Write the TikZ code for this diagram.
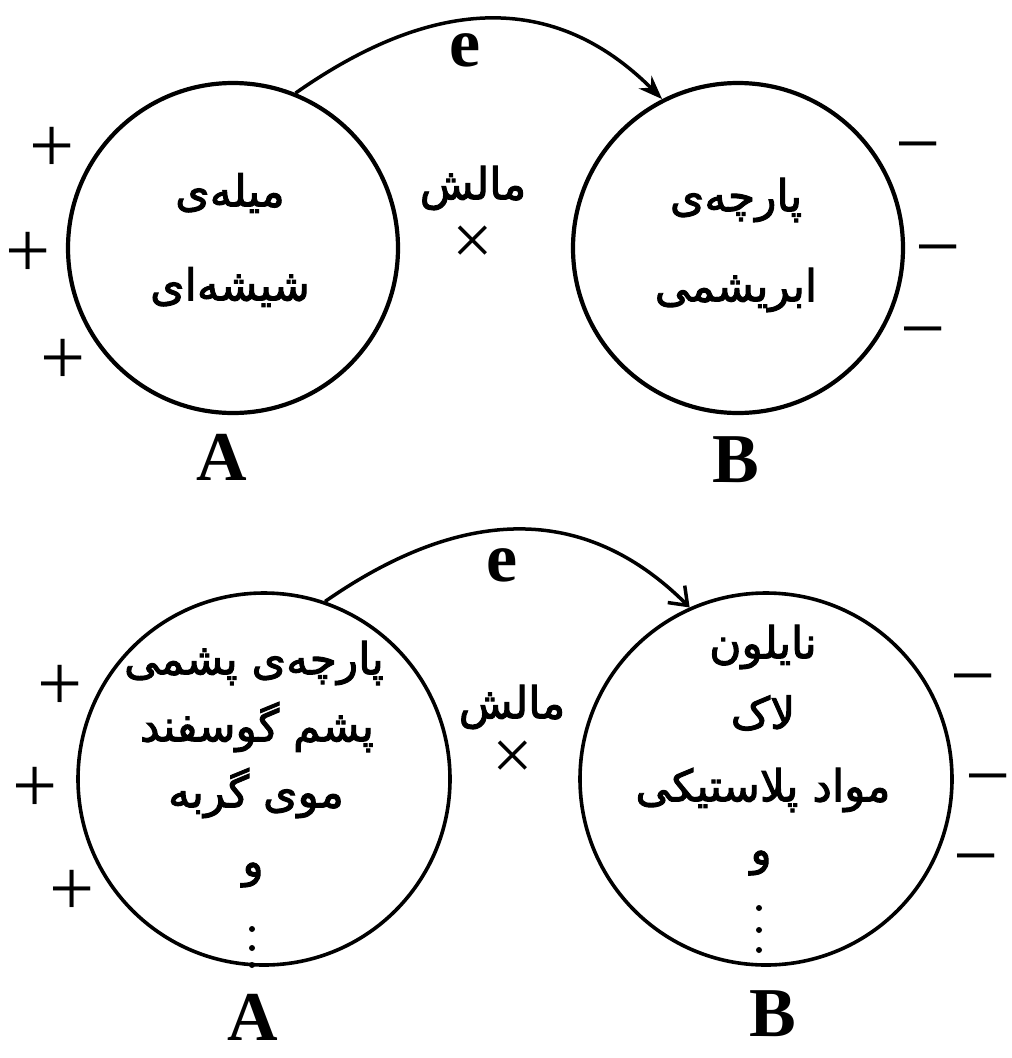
\documentclass[tikz,border=0pt]{standalone}
\usepackage{fontspec}
\setmainfont{Liberation Serif}
\newfontfamily\fa[Script=Arabic,FakeBold=2.2]{DejaVu Sans}
\TeXXeTstate=1
\usetikzlibrary{arrows.meta}
\begin{document}
\begin{tikzpicture}[x=1pt,y=-1pt,
  ringS/.style={circle,draw,line width=4.2pt,inner sep=0pt,minimum size=330pt},
  ringL/.style={circle,draw,line width=3.6pt,inner sep=0pt,minimum size=372pt},
  fatext/.style={font=\fa\fontsize{44}{52}\selectfont,inner sep=0pt},
  lbl/.style={font=\bfseries\fontsize{70}{70}\selectfont,inner sep=0pt},
  sgn/.style={font=\fontsize{80}{80}\selectfont,inner sep=0pt},
  crs/.style={font=\fontsize{72}{72}\selectfont,inner sep=0pt},
  dotm/.style={circle,fill,inner sep=0pt,minimum size=6pt},
  flow/.style={line width=3.5pt}]
\useasboundingbox[fill=white] (0,0) rectangle (1012,1058);

% ---------- top diagram ----------
\node[ringS] (A1) at (233,248) {};
\node[ringS] (B1) at (738,248) {};
\draw[flow,-{Stealth[length=24pt,width=18pt]}] (A1.68) .. controls +(114,-80) and +(-123,-123) .. (B1.117);
\node[lbl] (e1) at (465,50) {e};
\node[fatext] (a1l1) at (230,193) {\beginR میله^^^^200cی\endR};
\node[fatext] (a1l2) at (230,287) {\beginR شیشه^^^^200cای\endR};
\node[fatext] (b1l1) at (736,200) {\beginR پارچه^^^^200cی\endR};
\node[fatext] (b1l2) at (736,290) {\beginR ابریشمی\endR};
\node[fatext] (m1) at (473,188) {\beginR مالش\endR};
\node[crs] (x1) at (473,245) {×};
\node[sgn] (p11) at (52,150) {+};
\node[sgn] (p12) at (28,255) {+};
\node[sgn] (p13) at (63,362) {+};
\node[sgn] (n11) at (918,156) {−};
\node[sgn] (n12) at (938,259) {−};
\node[sgn] (n13) at (923,341) {−};
\node[lbl] (LA1) at (222,457) {A};
\node[lbl] (LB1) at (736,460) {B};

% ---------- bottom diagram ----------
\node[ringL] (A2) at (264,779) {};
\node[ringL] (B2) at (766,779) {};
\draw[flow,-{Straight Barb[length=16pt,width=24pt]}] (A2.71) .. controls +(105,-73) and +(-125,-125) .. (B2.114);
\node[lbl] (e2) at (502,565) {e};
\node[fatext] (a2l1) at (254,663) {\beginR پارچه^^^^200cی پشمی\endR};
\node[fatext] (a2l2) at (257,727) {\beginR پشم گوسفند\endR};
\node[fatext] (a2l3) at (256,793) {\beginR موی گربه\endR};
\node[fatext] (a2l4) at (253,875) {\beginR و\endR};
\node[dotm] (a2d1) at (252,929) {};
\node[dotm] (a2d2) at (252,948) {};
\node[dotm] (a2d3) at (252,965) {};
\node[fatext] (b2l1) at (763,647) {\beginR نایلون\endR};
\node[fatext] (b2l2) at (763,713) {\beginR لاک\endR};
\node[fatext] (b2l3) at (763,790) {\beginR مواد پلاستیکی\endR};
\node[fatext] (b2l4) at (761,863) {\beginR و\endR};
\node[dotm] (b2d1) at (759,908) {};
\node[dotm] (b2d2) at (759,930) {};
\node[dotm] (b2d3) at (759,950) {};
\node[fatext] (m2) at (512,707) {\beginR مالش\endR};
\node[crs] (x2) at (513,760) {×};
\node[sgn] (p21) at (60,688) {+};
\node[sgn] (p22) at (35,790) {+};
\node[sgn] (p23) at (72,893) {+};
\node[sgn] (n21) at (973,688) {−};
\node[sgn] (n22) at (988,788) {−};
\node[sgn] (n23) at (976,868) {−};
\node[lbl] (LA2) at (253,1017) {A};
\node[lbl] (LB2) at (773,1014) {B};
\end{tikzpicture}
\end{document}
